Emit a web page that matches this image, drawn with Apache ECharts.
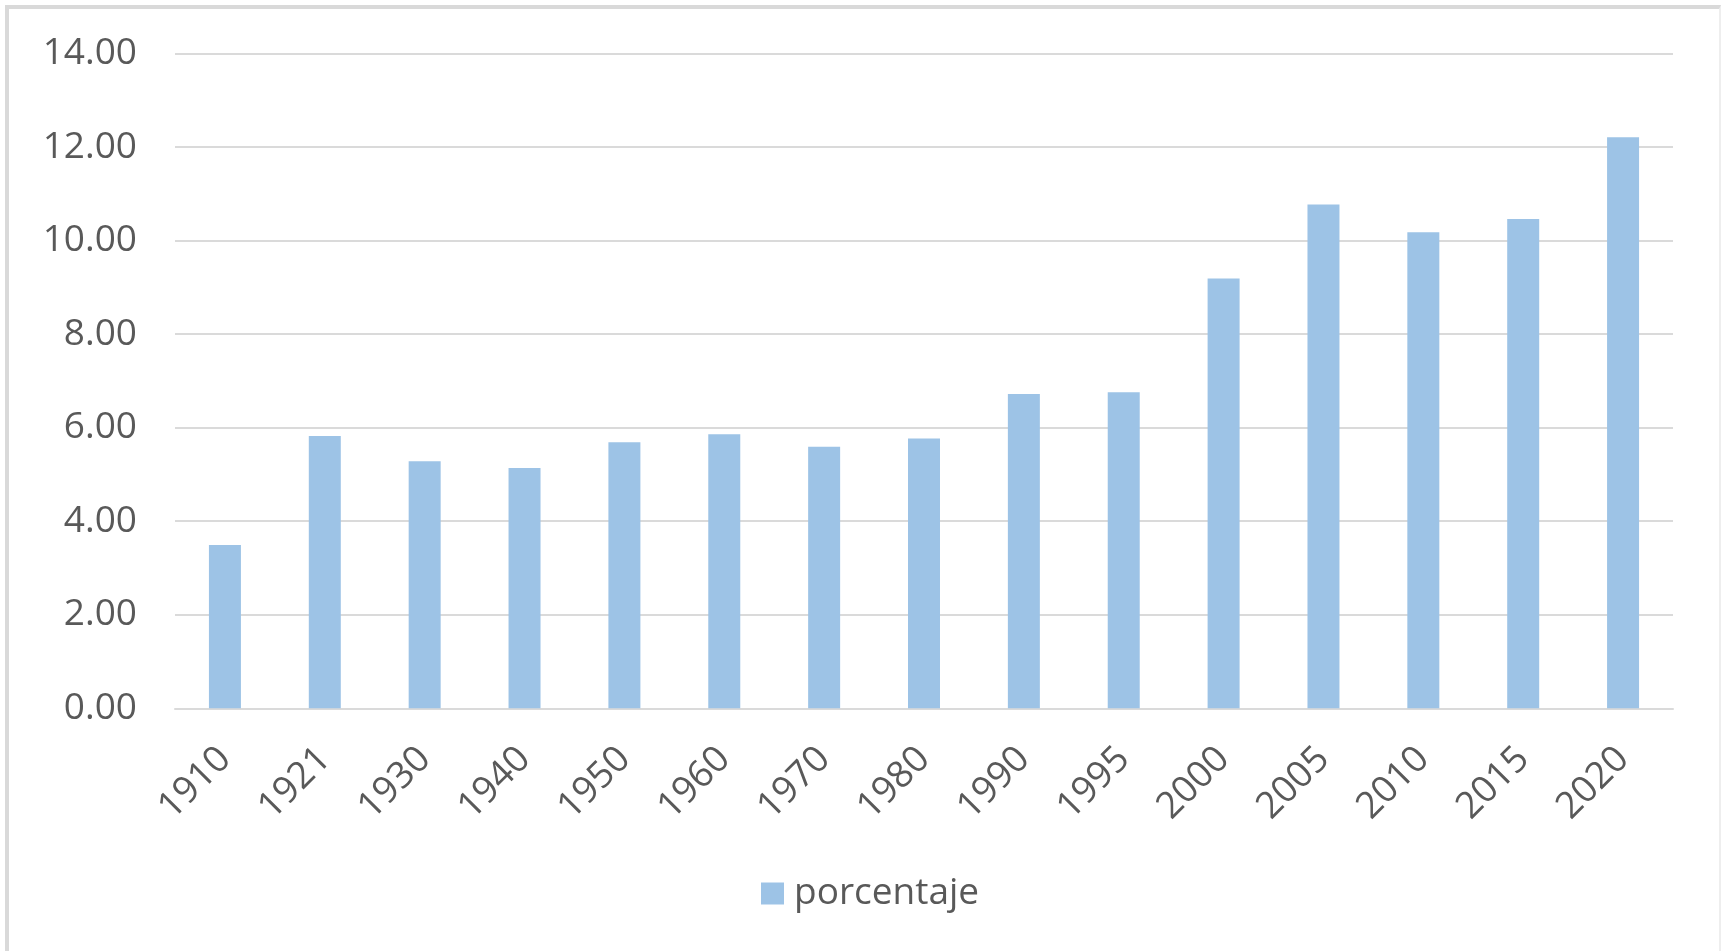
<!DOCTYPE html>
<html>
<head>
<meta charset="utf-8">
<title>porcentaje</title>
<script src="https://cdn.jsdelivr.net/npm/echarts@6/dist/echarts.min.js"></script>
<style>
  html, body { margin: 0; padding: 0; background: #ffffff; }
  #chart { position: absolute; left: 0; top: 0; width: 1721px; height: 951px; }
  #frame {
    position: absolute; left: 5px; top: 5px; width: 1710px; height: 960px;
    border-left: 4px solid #d9d9d9; border-top: 4px solid #d9d9d9; border-right: 2px solid #eeeeee;
    pointer-events: none; z-index: 2;
  }
</style>
</head>
<body>
<div id="chart"></div>
<div id="frame"></div>
<script>
// Census years and the share (porcentaje) recorded for each
const years = ['1910', '1921', '1930', '1940', '1950', '1960', '1970', '1980',
               '1990', '1995', '2000', '2005', '2010', '2015', '2020'];
const porcentaje = [3.49, 5.82, 5.28, 5.14, 5.69, 5.86, 5.59, 5.77,
                    6.72, 6.76, 9.19, 10.77, 10.18, 10.46, 12.21];
const yTicks = { min: 0, max: 14, interval: 2 };

const textColor = '#595959';
const gridColor = '#dadada';
const fontFamily = '"Open Sans", "Noto Sans", sans-serif';

const chart = echarts.init(document.getElementById('chart'), null, { renderer: 'canvas' });

chart.setOption({
  backgroundColor: '#ffffff',
  animation: false,
  textStyle: { fontFamily: fontFamily },
  grid: { left: 175, right: 48, top: 53.5, bottom: 242.7 },
  legend: {
    data: ['porcentaje'],
    left: 756,
    top: 870,
    icon: 'rect',
    itemWidth: 23,
    itemHeight: 22,
    textStyle: { color: textColor, fontSize: 37, fontFamily: fontFamily, padding: [0, 0, 0, 5] }
  },
  xAxis: {
    type: 'category',
    data: years,
    axisLine: { lineStyle: { color: gridColor, width: 2 } },
    axisTick: { show: false },
    axisLabel: {
      color: textColor,
      fontSize: 37,
      fontFamily: fontFamily,
      rotate: 45,
      margin: 45,
      interval: 0
    }
  },
  yAxis: {
    type: 'value',
    min: yTicks.min,
    max: yTicks.max,
    interval: yTicks.interval,
    axisLine: { show: false },
    axisTick: { show: false },
    splitLine: { lineStyle: { color: gridColor, width: 2 } },
    axisLabel: {
      color: textColor,
      fontSize: 37,
      fontFamily: fontFamily,
      margin: 38,
      formatter: v => v.toFixed(2)
    }
  },
  series: [{
    name: 'porcentaje',
    type: 'bar',
    data: porcentaje,
    barWidth: 32,
    itemStyle: { color: '#9dc3e6' }
  }]
});
</script>
</body>
</html>
